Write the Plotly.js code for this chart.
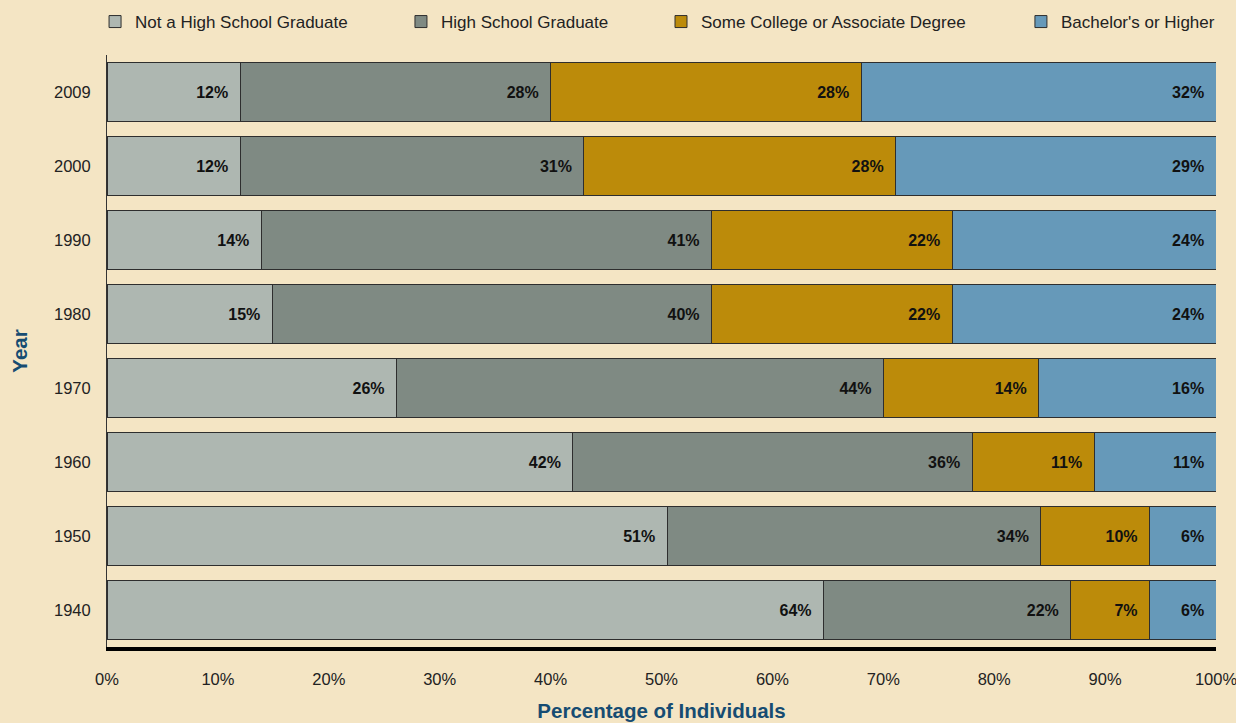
<!DOCTYPE html>
<html>
<head>
<meta charset="utf-8">
<script src="https://cdn.plot.ly/plotly-3.0.1.min.js"></script>
<style>
  html, body { margin: 0; padding: 0; background: #f4e5c4; }
  #chart { width: 1236px; height: 723px; }
</style>
</head>
<body>
<div id="chart"></div>
<script>
// Categories (bottom to top)
const years = ['1940', '1950', '1960', '1970', '1980', '1990', '2000', '2009'];

// Series values (percent of individuals)
const notHighSchool = [64.6, 50.5, 42.0, 26.1, 14.9, 13.9, 12.0, 12.0];
const highSchool    = [22.3, 33.7, 36.0, 43.9, 39.6, 40.6, 31.0, 28.0];
const someCollege   = [7.1, 9.8, 11.0, 14.0, 21.7, 21.7, 28.1, 28.0];
const bachelors     = [6.0, 6.0, 11.0, 16.0, 23.8, 23.8, 28.9, 32.0];

// Printed labels
const notHighSchoolLabels = ['64%', '51%', '42%', '26%', '15%', '14%', '12%', '12%'];
const highSchoolLabels    = ['22%', '34%', '36%', '44%', '40%', '41%', '31%', '28%'];
const someCollegeLabels   = ['7%', '10%', '11%', '14%', '22%', '22%', '28%', '28%'];
const bachelorsLabels     = ['6%', '6%', '11%', '16%', '24%', '24%', '29%', '32%'];

// Tick labels
const xTickVals = [0, 10, 20, 30, 40, 50, 60, 70, 80, 90, 100];
const xTickText = ['0%', '10%', '20%', '30%', '40%', '50%', '60%', '70%', '80%', '90%', '100%'];

const seriesNames = ['Not a High School Graduate', 'High School Graduate', 'Some College or Associate Degree', "Bachelor's or Higher"];
const seriesColors = ['#aeb7b1', '#7f8a83', '#bc8b0a', '#6699b9'];
const seriesValues = [notHighSchool, highSchool, someCollege, bachelors];
const seriesLabels = [notHighSchoolLabels, highSchoolLabels, someCollegeLabels, bachelorsLabels];
const legendIds = ['legend', 'legend2', 'legend3', 'legend4'];

const FONT = '"Liberation Sans", Arial, Helvetica, sans-serif';
const BG = '#f4e5c4';
const TITLE_BLUE = '#164c72';

const traces = seriesValues.map((vals, i) => ({
  type: 'bar',
  orientation: 'h',
  name: seriesNames[i],
  y: years,
  x: vals,
  text: seriesLabels[i],
  texttemplate: '%{text}\u00a0\u00a0',
  textposition: 'inside',
  insidetextanchor: 'end',
  textangle: 0,
  constraintext: 'none',
  textfont: { family: FONT, size: 16, color: '#111111', weight: 'bold' },
  marker: { color: seriesColors[i], line: { color: '#2e2e2e', width: 1 } },
  legend: legendIds[i],
  hoverinfo: 'name+x+y'
}));

const legendXs = [0.0769, 0.3244, 0.5348, 0.826];
function legendCfg(x) {
  return {
    orientation: 'h',
    xref: 'container', yref: 'container',
    x: x, xanchor: 'left',
    y: 1 - 22 / 723, yanchor: 'middle',
    bgcolor: 'rgba(0,0,0,0)',
    borderwidth: 0,
    font: { family: FONT, size: 17, color: '#222222' }
  };
}

const layout = {
  width: 1236,
  height: 723,
  paper_bgcolor: BG,
  plot_bgcolor: BG,
  barmode: 'stack',
  bargap: 0.2,
  margin: { l: 107, r: 20, t: 55, b: 76, pad: 0 },
  showlegend: true,
  legend: legendCfg(legendXs[0]),
  legend2: legendCfg(legendXs[1]),
  legend3: legendCfg(legendXs[2]),
  legend4: legendCfg(legendXs[3]),
  xaxis: {
    range: [0, 100],
    tickvals: xTickVals,
    ticktext: xTickText,
    showgrid: false,
    zeroline: false,
    showline: true,
    linecolor: '#000000',
    linewidth: 4,
    ticks: '',
    ticklabelstandoff: 14,
    ticklabeloverflow: 'allow',
    tickfont: { family: FONT, size: 16.5, color: '#222222' },
    fixedrange: true,
    automargin: false,
    title: {
      text: 'Percentage of Individuals',
      font: { family: FONT, size: 20.5, color: TITLE_BLUE, weight: 'bold' },
      standoff: 18
    }
  },
  yaxis: {
    type: 'category',
    showgrid: false,
    zeroline: false,
    showline: true,
    linecolor: '#333333',
    linewidth: 1,
    ticks: '',
    ticklabelstandoff: 12,
    tickfont: { family: FONT, size: 16.5, color: '#222222' },
    fixedrange: true,
    automargin: false,
    title: {
      text: 'Year',
      font: { family: FONT, size: 20.5, color: TITLE_BLUE, weight: 'bold' },
      standoff: 20
    }
  }
};

Plotly.newPlot('chart', traces, layout, { displayModeBar: false, staticPlot: false });
</script>
</body>
</html>
